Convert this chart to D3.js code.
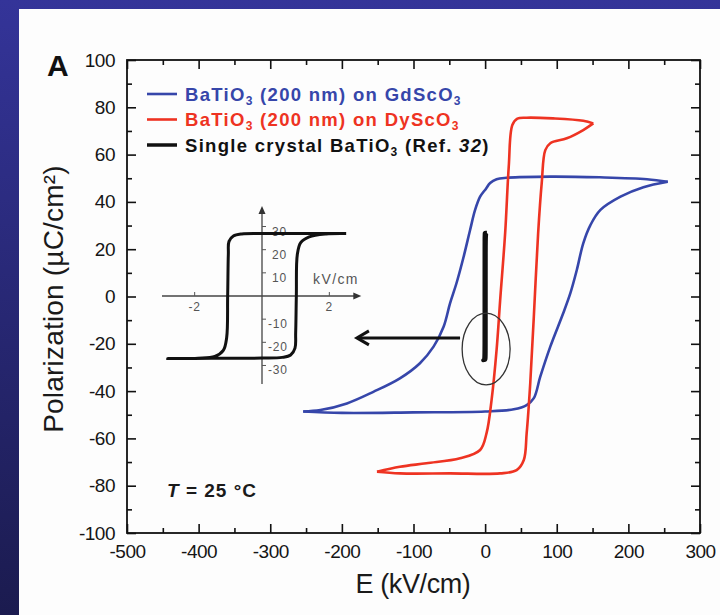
<!DOCTYPE html>
<html>
<head>
<meta charset="utf-8">
<script src="https://d3js.org/d3.v7.min.js"></script>
<style>
  body { margin: 0; padding: 0; background: #1f1f5e; }
  svg { display: block; font-family: "Liberation Sans", Arial, sans-serif; }
  .tick text { font-size: 19px; fill: #151515; letter-spacing: -0.5px; }
  .tick line { stroke: #111; stroke-width: 1.6px; }
  .inset text { font-size: 12px; fill: #555; letter-spacing: 0.8px; }
</style>
</head>
<body>
<div id="chart"></div>
<script>
// tick values
var eTicks = [-500, -400, -300, -200, -100, 0, 100, 200, 300];
var eMinor = [-450, -350, -250, -150, -50, 50, 150, 250];
var pTicks = [-100, -80, -60, -40, -20, 0, 20, 40, 60, 80, 100];
var pMinor = [-90, -70, -50, -30, -10, 10, 30, 50, 70, 90];

// BaTiO3 (200 nm) on GdScO3, [E kV/cm, P uC/cm2]
var gdUpper = [[255,48.5],[226,49.6],[160,50.4],[91,50.7],[30,50.2],[16,49.6],[7,48],[1,45.5],[-7,42.2],[-14,36.6],
  [-21,28.1],[-30,16.8],[-40,5.6],[-49,-2.9],[-58,-12.8],[-72,-21.2],[-91,-28.2],[-119,-34.6],[-156,-40.3],
  [-193,-45.2],[-230,-48],[-254,-48.6]];
var gdLower = [[-254,-48.6],[-200,-49.2],[-100,-49],[0,-48.6],[40,-47.7],[58,-45.9],[68,-43],[77,-33.9],
  [91,-21.2],[109,-7.1],[119,1.4],[128,11.2],[137,22.5],[147,30.2],[161,36.6],[189,42.2],[221,46.2],[255,48.5]];

// BaTiO3 (200 nm) on DyScO3
var dyUpper = [[151,73.2],[137,74.3],[95,75.3],[58,75.6],[45,75.2],[38,72.5],[33,55],[28,27],[21,-1.5],
  [16,-22.6],[9,-43.8],[2,-57.8],[-7,-64.9],[-35,-68.4],[-82,-70.5],[-119,-72],[-151,-74.1]];
var dyLower = [[-151,-74.1],[-119,-74.8],[-49,-74.8],[21,-74.8],[44,-73.4],[54,-69.1],[58,-57.8],[63,-36.7],
  [68,-8.5],[74,26.7],[79,47.9],[84,61.9],[91,64.8],[114,66.9],[137,70.4],[151,73.2]];

// Single crystal BaTiO3 (Ref. 32)
var scLoop = [[2.5,27],[1.5,27],[0,27],[-0.6,26.8],[-0.85,25.9],[-0.98,23.6],[-1.0,18],[-1.02,0],
  [-1.05,-18],[-1.15,-23.5],[-1.4,-26.1],[-1.9,-26.9],[-2.8,-27],[-1.5,-26.9],[0,-26.8],[0.6,-26.5],
  [0.85,-25.5],[0.98,-22.5],[1.0,-16],[1.02,0],[1.05,18],[1.15,23],[1.4,25.5],[1.9,26.8],[2.5,27]];
var insetXTicks = [-2, -1, 1, 2];
var insetXLabels = [-2, 2];
var insetYTicks = [-30, -20, -10, 10, 20, 30];

var width = 720, height = 615;

var svg = d3.select("#chart").append("svg")
    .attr("width", width)
    .attr("height", height);

// slide background
var grad = svg.append("defs").append("linearGradient")
    .attr("id", "bg").attr("x1", 0).attr("y1", 0).attr("x2", 0).attr("y2", 1);
grad.append("stop").attr("offset", "0%").attr("stop-color", "#343499");
grad.append("stop").attr("offset", "100%").attr("stop-color", "#1b1b4f");
svg.append("rect").attr("width", width).attr("height", height).attr("fill", "url(#bg)");
svg.append("rect").attr("x", 19).attr("y", 9).attr("width", width - 19).attr("height", height - 9)
    .attr("fill", "#fdfdfd");

var x = d3.scaleLinear().domain([-500, 300]).range([127, 700]);
var y = d3.scaleLinear().domain([-100, 100]).range([533, 60]);
var fmt = function(d) { return String(d); };

function addAxis(axis, tx, ty) {
    var g = svg.append("g").attr("transform", "translate(" + tx + "," + ty + ")").call(axis);
    g.select(".domain").remove();
    return g;
}
addAxis(d3.axisBottom(x).tickValues(eTicks).tickSize(-9).tickPadding(12).tickFormat(fmt), 0, 533);
addAxis(d3.axisBottom(x).tickValues(eMinor).tickSize(-5).tickFormat(""), 0, 533);
addAxis(d3.axisTop(x).tickValues(eTicks).tickSize(-9).tickFormat(""), 0, 60);
addAxis(d3.axisTop(x).tickValues(eMinor).tickSize(-5).tickFormat(""), 0, 60);
addAxis(d3.axisLeft(y).tickValues(pTicks).tickSize(-9).tickPadding(12).tickFormat(fmt), 127, 0);
addAxis(d3.axisLeft(y).tickValues(pMinor).tickSize(-5).tickFormat(""), 127, 0);
addAxis(d3.axisRight(y).tickValues(pTicks).tickSize(-9).tickFormat(""), 700, 0);
addAxis(d3.axisRight(y).tickValues(pMinor).tickSize(-5).tickFormat(""), 700, 0);

svg.append("rect")
    .attr("x", x(-500)).attr("y", y(100))
    .attr("width", x(300) - x(-500)).attr("height", y(-100) - y(100))
    .attr("fill", "none").attr("stroke", "#111").attr("stroke-width", 1.8);

// axis titles
svg.append("text")
    .attr("x", 413).attr("y", 593)
    .attr("text-anchor", "middle")
    .style("font-size", "27px").style("letter-spacing", "-0.4px").style("fill", "#1a1a1a")
    .text("E (kV/cm)");
svg.append("text")
    .attr("transform", "translate(63,299) rotate(-90)")
    .attr("text-anchor", "middle")
    .style("font-size", "28px").style("letter-spacing", "0.2px").style("fill", "#1a1a1a")
    .text("Polarization (\u00B5C/cm\u00B2)");
svg.append("text")
    .attr("x", 47).attr("y", 76)
    .style("font-size", "30px").style("font-weight", "bold").style("fill", "#111")
    .text("A");

// loops
var line = d3.line()
    .x(function(d) { return x(d[0]); })
    .y(function(d) { return y(d[1]); })
    .curve(d3.curveCatmullRom.alpha(0.5));

var blue = "#3646aa", red = "#ee3322";
[gdUpper, gdLower].forEach(function(s) {
    svg.append("path").attr("d", line(s)).attr("fill", "none")
        .attr("stroke", blue).attr("stroke-width", 2.6);
});
[dyUpper, dyLower].forEach(function(s) {
    svg.append("path").attr("d", line(s)).attr("fill", "none")
        .attr("stroke", red).attr("stroke-width", 2.6);
});
svg.append("path").attr("d", line(scLoop)).attr("fill", "none")
    .attr("stroke", "#111").attr("stroke-width", 3.8);

// ellipse + arrow pointing to the inset
var ell = { e: 1.4, p: -22.2, re: 33.5, rp: 15.2 };
svg.append("ellipse")
    .attr("cx", x(ell.e)).attr("cy", y(ell.p))
    .attr("rx", x(ell.re) - x(0)).attr("ry", y(0) - y(ell.rp))
    .attr("fill", "none").attr("stroke", "#333").attr("stroke-width", 1.3);
var arrowP = -17.5, arrowFrom = -35, arrowTo = -179;
svg.append("line")
    .attr("x1", x(arrowFrom)).attr("y1", y(arrowP))
    .attr("x2", x(arrowTo) + 1).attr("y2", y(arrowP))
    .attr("stroke", "#111").attr("stroke-width", 3);
svg.append("path")
    .attr("d", "M" + (x(arrowTo) + 12) + "," + (y(arrowP) - 7) + "L" + x(arrowTo) + "," + y(arrowP) +
        "L" + (x(arrowTo) + 12) + "," + (y(arrowP) + 7))
    .attr("fill", "none").attr("stroke", "#111").attr("stroke-width", 3);

// inset: single crystal loop
var ix = d3.scaleLinear().domain([-3, 3]).range([161, 363]);
var iy = d3.scaleLinear().domain([-38, 38]).range([384, 208]);
var inset = svg.append("g").attr("class", "inset");
inset.append("line").attr("x1", ix(-2.97)).attr("x2", ix(2.8)).attr("y1", iy(0)).attr("y2", iy(0))
    .attr("stroke", "#444").attr("stroke-width", 1.3);
inset.append("line").attr("x1", ix(0)).attr("x2", ix(0)).attr("y1", iy(-38)).attr("y2", iy(36))
    .attr("stroke", "#444").attr("stroke-width", 1.3);
inset.append("path")
    .attr("d", "M" + (ix(2.95)) + "," + iy(0) + "l-8,-3.5l0,7z").attr("fill", "#333");
inset.append("path")
    .attr("d", "M" + ix(0) + "," + (iy(38) - 2) + "l-3.5,8l7,0z").attr("fill", "#333");
inset.selectAll(".xt").data(insetXTicks).enter().append("line")
    .attr("x1", function(d) { return ix(d); }).attr("x2", function(d) { return ix(d); })
    .attr("y1", iy(0)).attr("y2", iy(0) - 4)
    .attr("stroke", "#555").attr("stroke-width", 1);
inset.selectAll(".yt").data(insetYTicks).enter().append("line")
    .attr("x1", ix(0)).attr("x2", ix(0) + 4)
    .attr("y1", function(d) { return iy(d); }).attr("y2", function(d) { return iy(d); })
    .attr("stroke", "#555").attr("stroke-width", 1);
inset.selectAll(".xl").data(insetXLabels).enter().append("text")
    .attr("x", function(d) { return ix(d); }).attr("y", iy(0) + 15)
    .attr("text-anchor", "middle")
    .text(fmt);
inset.selectAll(".yl").data(insetYTicks).enter().append("text")
    .attr("x", function(d) { return ix(0) + (d < 0 ? 6 : 10); }).attr("y", function(d) { return iy(d) + 9; })
    .text(fmt);
inset.append("text").attr("x", 313).attr("y", 284)
    .style("font-size", "14px").style("letter-spacing", "1.4px").text("kV/cm");
inset.append("path").attr("d", d3.line()
        .x(function(d) { return ix(d[0]); })
        .y(function(d) { return iy(d[1]); })
        .curve(d3.curveCatmullRom.alpha(0.5))(scLoop))
    .attr("fill", "none").attr("stroke", "#111").attr("stroke-width", 3);

// legend
var legend = [
    { color: blue, text: ["BaTiO", "3", " (200 nm) on GdScO", "3"], w: 2.6 },
    { color: red, text: ["BaTiO", "3", " (200 nm) on DyScO", "3"], w: 2.6 },
    { color: "#111", text: ["Single crystal BaTiO", "3", " (Ref. ", "32", ")"], w: 3.5 }
];
legend.forEach(function(d, i) {
    var ly = 94 + i * 25.5;
    svg.append("line").attr("x1", 147).attr("x2", 177).attr("y1", ly).attr("y2", ly)
        .attr("stroke", d.color).attr("stroke-width", d.w);
    var t = svg.append("text").attr("x", 185).attr("y", ly + 6.5)
        .style("font-size", "18.5px").style("font-weight", "bold")
        .style("letter-spacing", "1.3px").style("fill", d.color);
    d.text.forEach(function(s, j) {
        var ts = t.append("tspan").text(s);
        if (s === "3") ts.attr("dy", 4).style("font-size", "12px");
        else if (j > 0 && d.text[j - 1] === "3") ts.attr("dy", -4);
        if (s === "32") ts.style("font-style", "italic");
    });
});

// temperature note
var note = svg.append("text").attr("x", 167).attr("y", 497)
    .style("font-size", "19px").style("font-weight", "bold")
    .style("letter-spacing", "1px").style("fill", "#1a1a1a");
note.append("tspan").style("font-style", "italic").text("T");
note.append("tspan").text(" = 25 \u00B0C");
</script>
</body>
</html>
